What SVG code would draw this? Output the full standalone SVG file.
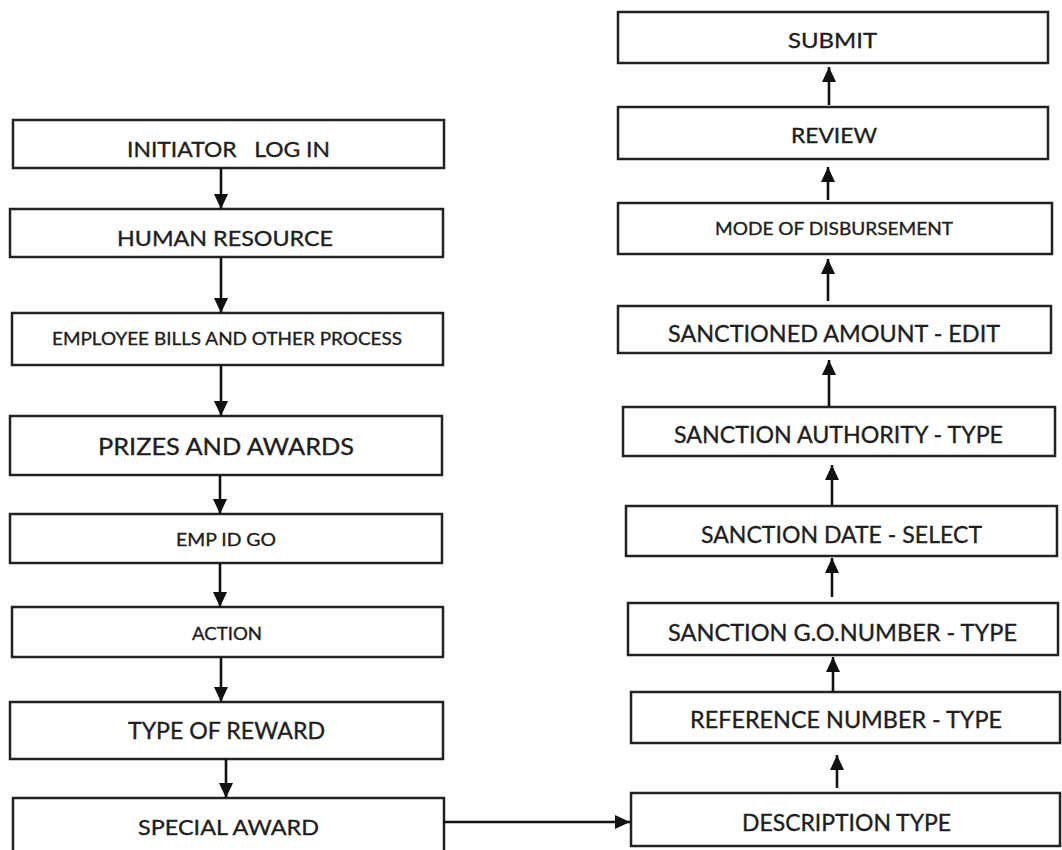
<svg xmlns="http://www.w3.org/2000/svg" width="1062" height="850" viewBox="0 0 1062 850">
  <defs>
    <marker id="arrow" markerUnits="userSpaceOnUse" markerWidth="16" markerHeight="16" viewBox="0 0 16 16" refX="15" refY="8" orient="auto">
      <path d="M0,1 L15,8 L0,15 Z" fill="#111"/>
    </marker>
    <style>
      .box { fill: #fff; stroke: #222; stroke-width: 2.5; }
      .lbl { font-family: Lato, "Liberation Sans", sans-serif; fill: #1e1e1e; stroke: #1e1e1e; stroke-width: 0.35; text-anchor: middle; }
      .edge { fill: none; stroke: #111; stroke-width: 2.6; marker-end: url(#arrow); }
    </style>
  </defs>
  <rect width="1062" height="850" fill="#fff"/>

  <!-- left column: login through award selection -->
  <g id="initiator-login">
    <rect class="box" x="13" y="120" width="431" height="48"/>
    <text class="lbl" x="228.5" y="157" font-size="21" textLength="203" lengthAdjust="spacingAndGlyphs" xml:space="preserve">INITIATOR   LOG IN</text>
  </g>
  <g id="human-resource">
    <rect class="box" x="10" y="209" width="433" height="48"/>
    <text class="lbl" x="225" y="246" font-size="21" textLength="216" lengthAdjust="spacingAndGlyphs">HUMAN RESOURCE</text>
  </g>
  <g id="employee-bills">
    <rect class="box" x="12" y="313" width="431" height="52"/>
    <text class="lbl" x="227" y="345" font-size="18" textLength="350" lengthAdjust="spacingAndGlyphs">EMPLOYEE BILLS AND OTHER PROCESS</text>
  </g>
  <g id="prizes-awards">
    <rect class="box" x="10" y="416" width="432" height="59"/>
    <text class="lbl" x="226" y="455" font-size="24" textLength="256" lengthAdjust="spacingAndGlyphs">PRIZES AND AWARDS</text>
  </g>
  <g id="emp-id-go">
    <rect class="box" x="10" y="514" width="432" height="49"/>
    <text class="lbl" x="226" y="546" font-size="18" textLength="100" lengthAdjust="spacingAndGlyphs">EMP ID GO</text>
  </g>
  <g id="action">
    <rect class="box" x="12" y="607" width="431" height="50"/>
    <text class="lbl" x="227" y="640" font-size="18" textLength="70" lengthAdjust="spacingAndGlyphs">ACTION</text>
  </g>
  <g id="type-of-reward">
    <rect class="box" x="10" y="702" width="433" height="57"/>
    <text class="lbl" x="226.5" y="739" font-size="23" textLength="197" lengthAdjust="spacingAndGlyphs">TYPE OF REWARD</text>
  </g>
  <g id="special-award">
    <rect class="box" x="13" y="798" width="431" height="56"/>
    <text class="lbl" x="228.5" y="835" font-size="22" textLength="181" lengthAdjust="spacingAndGlyphs">SPECIAL AWARD</text>
  </g>

  <!-- right column: sanction details up to submit -->
  <g id="submit">
    <rect class="box" x="618" y="12" width="430" height="51"/>
    <text class="lbl" x="832.5" y="48" font-size="22" textLength="89" lengthAdjust="spacingAndGlyphs">SUBMIT</text>
  </g>
  <g id="review">
    <rect class="box" x="618" y="107" width="430" height="52"/>
    <text class="lbl" x="834" y="143" font-size="21" textLength="86" lengthAdjust="spacingAndGlyphs">REVIEW</text>
  </g>
  <g id="mode-of-disbursement">
    <rect class="box" x="618" y="203" width="434" height="51"/>
    <text class="lbl" x="834" y="235" font-size="18" textLength="238" lengthAdjust="spacingAndGlyphs">MODE OF DISBURSEMENT</text>
  </g>
  <g id="sanctioned-amount">
    <rect class="box" x="618" y="306" width="433" height="47"/>
    <text class="lbl" x="834" y="342" font-size="24" textLength="332" lengthAdjust="spacingAndGlyphs">SANCTIONED AMOUNT - EDIT</text>
  </g>
  <g id="sanction-authority">
    <rect class="box" x="623" y="407" width="432" height="49"/>
    <text class="lbl" x="838.5" y="443" font-size="24" textLength="329" lengthAdjust="spacingAndGlyphs">SANCTION AUTHORITY - TYPE</text>
  </g>
  <g id="sanction-date">
    <rect class="box" x="626" y="506" width="431" height="50"/>
    <text class="lbl" x="841.5" y="543" font-size="24" textLength="281" lengthAdjust="spacingAndGlyphs">SANCTION DATE - SELECT</text>
  </g>
  <g id="sanction-go-number">
    <rect class="box" x="628" y="603" width="430" height="52"/>
    <text class="lbl" x="842.5" y="641" font-size="24" textLength="349" lengthAdjust="spacingAndGlyphs">SANCTION G.O.NUMBER - TYPE</text>
  </g>
  <g id="reference-number">
    <rect class="box" x="631" y="692" width="429" height="51"/>
    <text class="lbl" x="846" y="728" font-size="22.5" textLength="312" lengthAdjust="spacingAndGlyphs">REFERENCE NUMBER - TYPE</text>
  </g>
  <g id="description-type">
    <rect class="box" x="631" y="793" width="429" height="53"/>
    <text class="lbl" x="846.5" y="831" font-size="23" textLength="209" lengthAdjust="spacingAndGlyphs">DESCRIPTION TYPE</text>
  </g>

  <!-- connectors -->
  <g id="connectors">
    <path class="edge" d="M221,168 V209"/>
    <path class="edge" d="M221,257 V313"/>
    <path class="edge" d="M221,365 V416"/>
    <path class="edge" d="M220,475 V514"/>
    <path class="edge" d="M220,563 V607"/>
    <path class="edge" d="M221,657 V702"/>
    <path class="edge" d="M226,759 V798"/>
    <path class="edge" d="M443,822 H630"/>
    <path class="edge" d="M837,788 V755"/>
    <path class="edge" d="M833,692 V657"/>
    <path class="edge" d="M832,597 V558"/>
    <path class="edge" d="M832,506 V465"/>
    <path class="edge" d="M829,406 V360"/>
    <path class="edge" d="M828,301 V259"/>
    <path class="edge" d="M828,200 V167"/>
    <path class="edge" d="M829,105 V67"/>
  </g>
</svg>
